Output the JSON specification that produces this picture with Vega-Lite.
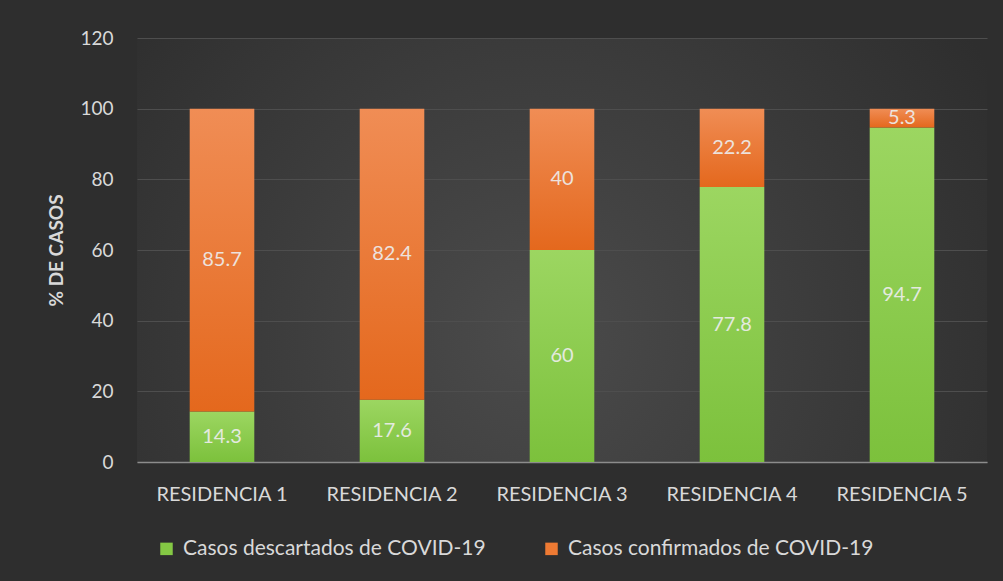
{
  "$schema": "https://vega.github.io/schema/vega-lite/v6.json",
  "width": 850,
  "height": 424,
  "autosize": {"type": "none"},
  "padding": {"left": 137, "top": 38, "right": 16, "bottom": 119},
  "background": "#2e2e2e",
  "config": {
    "font": "Lato",
    "view": {
      "stroke": null,
      "fill": {"gradient": "radial", "x1": 0.47, "y1": 0.6, "r1": 0, "x2": 0.47, "y2": 0.6, "r2": 0.62,
        "stops": [{"offset": 0, "color": "#4b4b4b"}, {"offset": 1, "color": "#2e2e2e"}]}
    },
    "axis": {"labelColor": "#d9d9d9", "titleColor": "#d9d9d9", "labelFontSize": 19, "titleFontSize": 19, "ticks": false}
  },
  "data": {
    "values": [
      {"res": "RESIDENCIA 1", "tipo": "Casos descartados de COVID-19", "k": 1, "value": 14.3},
      {"res": "RESIDENCIA 1", "tipo": "Casos confirmados de COVID-19", "k": 2, "value": 85.7},
      {"res": "RESIDENCIA 2", "tipo": "Casos descartados de COVID-19", "k": 1, "value": 17.6},
      {"res": "RESIDENCIA 2", "tipo": "Casos confirmados de COVID-19", "k": 2, "value": 82.4},
      {"res": "RESIDENCIA 3", "tipo": "Casos descartados de COVID-19", "k": 1, "value": 60},
      {"res": "RESIDENCIA 3", "tipo": "Casos confirmados de COVID-19", "k": 2, "value": 40},
      {"res": "RESIDENCIA 4", "tipo": "Casos descartados de COVID-19", "k": 1, "value": 77.8},
      {"res": "RESIDENCIA 4", "tipo": "Casos confirmados de COVID-19", "k": 2, "value": 22.2},
      {"res": "RESIDENCIA 5", "tipo": "Casos descartados de COVID-19", "k": 1, "value": 94.7},
      {"res": "RESIDENCIA 5", "tipo": "Casos confirmados de COVID-19", "k": 2, "value": 5.3}
    ]
  },
  "encoding": {
    "x": {
      "field": "res", "type": "nominal", "sort": null,
      "scale": {"paddingInner": 0.62, "paddingOuter": 0.31},
      "axis": {"title": null, "labelAngle": 0, "labelPadding": 22, "labelFontSize": 20, "domainColor": "#8c8c8c", "domainWidth": 1.5, "grid": false}
    }
  },
  "layer": [
    {
      "mark": {"type": "bar", "strokeWidth": 0},
      "encoding": {
        "y": {
          "field": "value", "type": "quantitative", "stack": "zero",
          "scale": {"domain": [0, 120]},
          "title": "% DE CASOS",
          "axis": {"values": [0, 20, 40, 60, 80, 100, 120], "domain": false, "labelPadding": 24, "titlePadding": 13, "titleFontWeight": "bold", "gridColor": "#4e4e4e", "gridWidth": 1}
        },
        "stroke": {
          "field": "tipo", "type": "nominal",
          "scale": {
            "domain": ["Casos descartados de COVID-19", "Casos confirmados de COVID-19"],
            "range": ["#84c844", "#ee7a33"]
          },
          "legend": {
            "orient": "none", "legendX": 19, "legendY": 500, "direction": "horizontal", "title": null,
            "symbolType": "square", "symbolSize": 30, "symbolStrokeWidth": 7, "symbolFillColor": "transparent",
            "labelFontSize": 21, "labelColor": "#d9d9d9", "labelLimit": 500, "columnPadding": 48, "labelOffset": 6
          }
        },
        "fill": {
          "condition": {"test": "datum.k == 1",
            "value": {"gradient": "linear", "x1": 0, "y1": 0, "x2": 0, "y2": 1, "stops": [{"offset": 0, "color": "#9cd661"}, {"offset": 1, "color": "#7cc13c"}]}},
          "value": {"gradient": "linear", "x1": 0, "y1": 0, "x2": 0, "y2": 1, "stops": [{"offset": 0, "color": "#f08d55"}, {"offset": 1, "color": "#e4681d"}]}
        },
        "order": {"field": "k", "type": "quantitative", "sort": "ascending"}
      }
    },
    {
      "transform": [
        {"stack": "value", "groupby": ["res"], "sort": [{"field": "k", "order": "ascending"}], "as": ["y0", "y1"]},
        {"fold": ["y0", "y1"], "as": ["edge", "pos"]},
        {"aggregate": [{"op": "mean", "field": "pos", "as": "mid"}], "groupby": ["res", "tipo", "value"]}
      ],
      "mark": {"type": "text", "color": "#eeeeee", "fontSize": 20, "baseline": "middle", "align": "center", "opacity": 0.9},
      "encoding": {
        "y": {"field": "mid", "type": "quantitative", "stack": null, "title": "% DE CASOS"},
        "text": {"field": "value", "type": "quantitative"}
      }
    }
  ]
}
